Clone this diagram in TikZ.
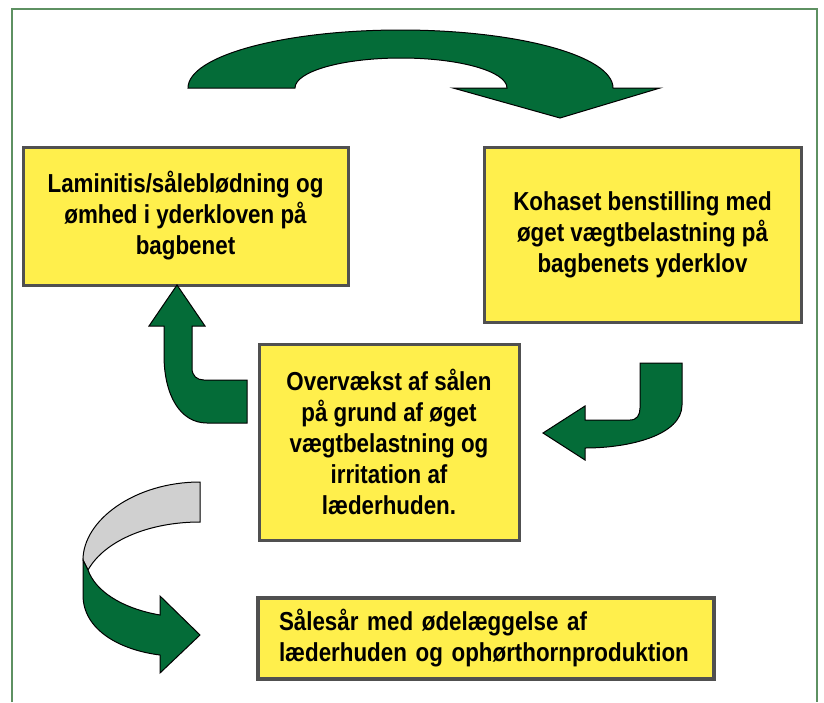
\documentclass[tikz,border=0pt]{standalone}
\usepackage{fontspec}
\setmainfont{Liberation Sans}[FakeStretch=0.86]
\definecolor{pilgroen}{HTML}{046C38}
\definecolor{boksgul}{HTML}{FFEF4C}
\definecolor{boksgraa}{HTML}{505050}
\definecolor{rammegroen}{HTML}{5E9162}
\definecolor{baandgraa}{HTML}{D0D0D0}
\begin{document}
\begin{tikzpicture}[x=1pt,y=-1pt]

%stilarter
\tikzset{
    boks/.style={draw=boksgraa, line width=3pt, fill=boksgul, align=center,
        font=\bfseries\fontsize{26}{31}\selectfont, inner sep=0pt},
    pil/.style={draw=black, line width=1pt, fill=pilgroen, line join=miter}
}

\useasboundingbox (0,0) rectangle (824,702);
\draw[rammegroen, line width=2pt] (12,702) -- (12,9) -- (817,9) -- (817,702);

%bokse
\node[boks, minimum width=325, minimum height=138] (lamin) at (185.5,216)
    {Laminitis/sålebl\o dning og\\ømhed i yderkloven på\\bagbenet};
\node[boks, minimum width=317, minimum height=175] (kohaset) at (642.5,234.5)
    {Kohaset benstilling med\\øget vægtbelastning på\\bagbenets yderklov};
\node[boks, minimum width=260, minimum height=196] (overvaekst) at (389,442)
    {Overvækst af sålen\\på grund af øget\\vægtbelastning og\\irritation af\\læderhuden.};
\node[boks, line width=4pt, minimum width=456, minimum height=81, text width=414, align=left]
    (saalesaar) at (486,638.5)
    {Sålesår med ødelæggelse af\\læderhuden og ophørthornproduktion};

%bue oeverst
\draw[pil] (188,88) .. controls (188,56) and (283,30) .. (400.5,30)
    .. controls (518,30) and (613,56) .. (613,88)
    -- (660,88) -- (560,118) -- (453,88) -- (507,88)
    .. controls (507,71.4) and (459.5,58) .. (401,58)
    .. controls (342.5,58) and (295,71.4) .. (295,88) -- cycle;

%pil op til venstre
\draw[pil] (177,285) -- (205,326) -- (192,326) -- (192,368)
    .. controls (192,376) and (197,380) .. (204,380)
    -- (247,380) -- (247,423) -- (207,423)
    .. controls (180,423) and (164,395) .. (164,355)
    -- (164,326) -- (149,326) -- cycle;

%pil ned til hoejre
\draw[pil] (640,363) -- (682,363) -- (682,405)
    .. controls (682,435) and (630,448) .. (585,448)
    -- (585,460) -- (543,433) -- (585,406) -- (585,420) -- (630,420)
    .. controls (637,420) and (640,415) .. (640,408) -- cycle;

%snoet baand nederst
\draw[draw=black, line width=1pt, fill=baandgraa] (200,482)
    .. controls (135,482) and (83,520) .. (83,560) -- (88,570)
    .. controls (105,540) and (150,522) .. (200,522) -- cycle;
\draw[pil] (83,560) -- (83,595)
    .. controls (83,630) and (120,650) .. (160,655)
    -- (160,673) -- (200,635) -- (160,596) -- (160,615)
    .. controls (120,608) and (95,590) .. (88,570) -- cycle;

\end{tikzpicture}
\end{document}
